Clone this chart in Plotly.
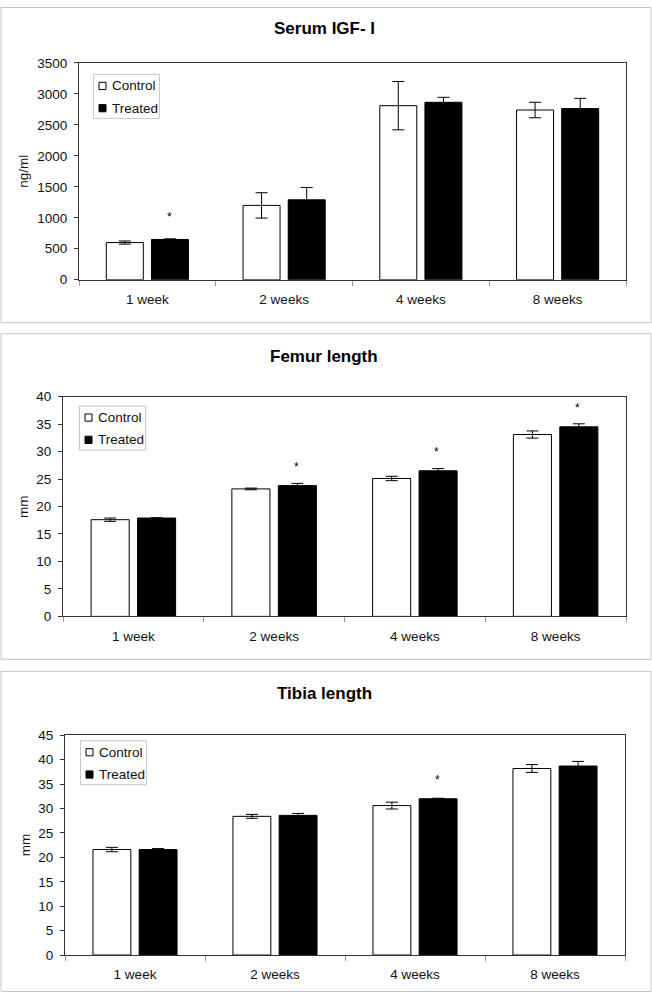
import plotly.graph_objects as go

# data
weeks = ["1 week", "2 weeks", "4 weeks", "8 weeks"]
groups = ["Control", "Treated"]

igf_control = [600, 1200, 2810, 2740]
igf_control_err = [25, 205, 390, 125]
igf_treated = [650, 1290, 2865, 2763]
igf_treated_err = [10, 200, 80, 165]
igf_star = [1018, None, None, None]

femur_control = [17.6, 23.2, 25.1, 33.1]
femur_control_err = [0.3, 0.15, 0.4, 0.65]
femur_treated = [17.9, 23.8, 26.5, 34.5]
femur_treated_err = [0.05, 0.4, 0.4, 0.55]
femur_star = [None, 27.2, 29.9, 37.9]

tibia_control = [21.6, 28.4, 30.6, 38.2]
tibia_control_err = [0.45, 0.4, 0.7, 0.8]
tibia_treated = [21.6, 28.6, 32.0, 38.7]
tibia_treated_err = [0.2, 0.4, 0.1, 0.95]
tibia_star = [None, None, 35.9, None]

W, H = 652, 1000
FONT = "Liberation Sans, Arial, sans-serif"
FS = 13.5

# pixel geometry of each panel (x0, x1, y0, y1) in the target picture
panels = [
    dict(title="Serum IGF- I", ytitle="ng/ml", ymax=3500, dtick=500,
         control=igf_control, cerr=igf_control_err,
         treated=igf_treated, terr=igf_treated_err, star=igf_star,
         plot=(79, 626, 62, 279), box=(1, 651, 1, 322),
         title_y=27.5, ytitle_x=23.5, legend=(93.5, 73.5)),
    dict(title="Femur length", ytitle="mm", ymax=40, dtick=5,
         control=femur_control, cerr=femur_control_err,
         treated=femur_treated, terr=femur_treated_err, star=femur_star,
         plot=(63, 626, 396, 616), box=(1, 651, 333, 659),
         title_y=355.5, ytitle_x=23.5, legend=(79.5, 405.5)),
    dict(title="Tibia length", ytitle="mm", ymax=45, dtick=5,
         control=tibia_control, cerr=tibia_control_err,
         treated=tibia_treated, terr=tibia_treated_err, star=tibia_star,
         plot=(65, 625, 735, 955), box=(1, 651, 671, 999),
         title_y=693, ytitle_x=25, legend=(80.5, 740.5)),
]


def px(x):
    return x / W


def py(y):
    # the photographed page comes out slightly squeezed vertically
    # (about 6 px on top, scale 0.986), so correct for that here
    y = (y - 6) / 0.986
    y = min(max(y, 0.5), H - 0.5)
    return 1 - y / H


fig = go.Figure()
layout = dict(
    width=W, height=H, margin=dict(l=0, r=0, t=0, b=0),
    paper_bgcolor="white", plot_bgcolor="white", showlegend=False,
    barmode="group", bargap=0.34, bargroupgap=0.18,
    font=dict(family=FONT, size=FS, color="#111"),
    shapes=[], annotations=[],
)

for i, p in enumerate(panels, start=1):
    sfx = "" if i == 1 else str(i)
    xa, ya = "x" + sfx, "y" + sfx
    x0, x1, y0, y1 = p["plot"]

    fig.add_trace(go.Bar(
        x=weeks, y=p["control"], name=groups[0], xaxis=xa, yaxis=ya,
        marker=dict(color="white", line=dict(color="black", width=1)),
        error_y=dict(type="data", array=p["cerr"], color="black", thickness=1, width=6),
    ))
    fig.add_trace(go.Bar(
        x=weeks, y=p["treated"], name=groups[1], xaxis=xa, yaxis=ya,
        marker=dict(color="black", line=dict(color="black", width=1)),
        error_y=dict(type="data", array=p["terr"], color="black", thickness=1, width=6),
    ))

    layout["xaxis" + sfx] = dict(
        domain=[px(x0), px(x1)], anchor=ya, type="category",
        showline=True, linecolor="#333", linewidth=1, mirror=True,
        ticks="outside", tickson="boundaries", ticklen=5, tickcolor="#999",
        ticklabelstandoff=7, showgrid=False, fixedrange=True,
        tickfont=dict(family=FONT, size=FS, color="#111"),
    )
    layout["yaxis" + sfx] = dict(
        domain=[py(y1), py(y0)], anchor=xa, range=[0, p["ymax"]],
        dtick=p["dtick"], showline=True, linecolor="#333", linewidth=1,
        mirror=True, ticks="outside", ticklen=4, tickcolor="#333",
        ticklabelstandoff=4, showgrid=False, zeroline=False, fixedrange=True,
        tickfont=dict(family=FONT, size=FS, color="#111"),
    )

    # panel frame
    bx0, bx1, by0, by1 = p["box"]
    layout["shapes"].append(dict(
        type="rect", xref="paper", yref="paper",
        x0=px(bx0), x1=px(bx1), y0=py(by1), y1=py(by0),
        line=dict(color="#c4c4c4", width=1), layer="below",
    ))
    # title and y axis title
    layout["annotations"].append(dict(
        text="<b>%s</b>" % p["title"], xref="paper", yref="paper",
        x=px(324), y=py(p["title_y"]), xanchor="center", yanchor="middle",
        showarrow=False, font=dict(family=FONT, size=17, color="black"),
    ))
    layout["annotations"].append(dict(
        text=p["ytitle"], xref="paper", yref="paper", textangle=-90,
        x=px(p["ytitle_x"]), y=py((y0 + y1) / 2), xanchor="center",
        yanchor="middle", showarrow=False,
        font=dict(family=FONT, size=FS, color="#111"),
    ))

    # legend box in the upper left corner of the plot
    lx, ly = p["legend"]
    layout["shapes"].append(dict(
        type="rect", xref="paper", yref="paper",
        x0=px(lx), x1=px(lx + 66), y0=py(ly + 44), y1=py(ly),
        line=dict(color="#c8c8c8", width=1), fillcolor="white",
    ))
    for k, (name, fill) in enumerate(zip(groups, ["white", "black"])):
        cy = ly + 11.5 + 22.3 * k
        layout["shapes"].append(dict(
            type="rect", xref="paper", yref="paper",
            x0=px(lx + 5.5), x1=px(lx + 12.5), y0=py(cy + 3.6), y1=py(cy - 3.6),
            line=dict(color="black", width=1), fillcolor=fill,
        ))
        layout["annotations"].append(dict(
            text=name, xref="paper", yref="paper", x=px(lx + 16.5), y=py(cy),
            xanchor="left", yanchor="middle", showarrow=False,
            font=dict(family=FONT, size=FS, color="#111"),
        ))

    # significance stars above the treated bars
    for w, s in zip(weeks, p["star"]):
        if s is None:
            continue
        layout["annotations"].append(dict(
            text="*", xref=xa, yref=ya, x=w, y=s, xshift=22,
            xanchor="center", yanchor="middle", showarrow=False,
            font=dict(family=FONT, size=12, color="black"),
        ))

fig.update_layout(**layout)
# drop the default page margin so the figure sits at the window origin
fig.write_html("out.html", config={"displayModeBar": False},
               post_script="document.body.style.margin='0';")
